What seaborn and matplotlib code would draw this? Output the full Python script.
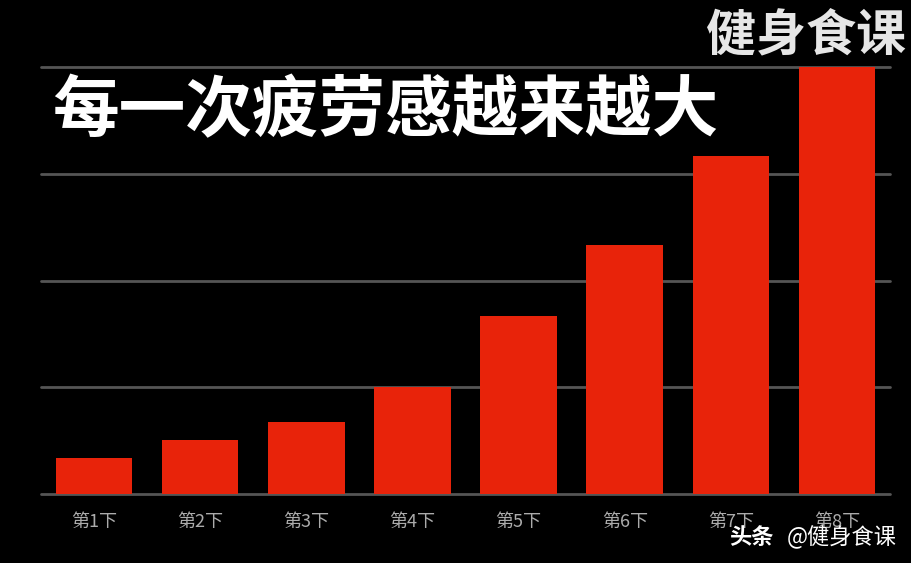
import matplotlib
matplotlib.use("Agg")
import matplotlib.pyplot as plt
import seaborn as sns
import pandas as pd

categories = ["第1下", "第2下", "第3下", "第4下", "第5下", "第6下", "第7下", "第8下"]
values = [0.34, 0.51, 0.67, 1.0, 1.67, 2.33, 3.17, 4.0]
title_text = "每一次疲劳感越来越大"
logo_text = "健身食课"
watermark_bold = "头条"
watermark_text = "@健身食课"

sns.set_theme(style="dark")
plt.rcParams['font.family'] = ['Noto Sans CJK SC', 'DejaVu Sans']

df = pd.DataFrame({"cat": categories, "val": values})

fig = plt.figure(figsize=(9.12, 5.63), dpi=100, facecolor="black")
ax = fig.add_axes([41/912, 1-494/563, (890-41)/912, (494-67)/563])
ax.set_facecolor("black")

sns.barplot(data=df, x="cat", y="val", color="#E8230A", saturation=1,
            width=0.72, ax=ax, zorder=3, linewidth=0, edgecolor="none")
ax.set_xlim(-0.5, 7.5)
ax.set_ylim(0, 4.0)
ax.set_yticks([0, 1, 2, 3, 4])
ax.set_yticklabels([])
ax.grid(axis="y", color="#555555", linewidth=2, zorder=1)
ax.grid(axis="x", visible=False)
for s in ax.spines.values():
    s.set_visible(False)
ax.tick_params(axis="y", length=0)
ax.tick_params(axis="x", length=0, colors="#ABABAB", labelsize=13, pad=14)
ax.set_xlabel("")
ax.set_ylabel("")
for gl in ax.get_ygridlines():
    gl.set_clip_on(False)

fig.text(52/912, 1-112/563, title_text, color="white", fontsize=48,
         fontweight="heavy", ha="left", va="center")
fig.text(906/912, 1-36/563, logo_text, color="#E6E6E6", fontsize=36,
         fontweight="heavy", ha="right", va="center")
fig.text(774/912, 1-537/563, watermark_bold, color="white", fontsize=16,
         fontweight="bold", ha="right", va="center")
fig.text(897/912, 1-537/563, watermark_text, color="white", fontsize=16,
         ha="right", va="center")

fig.savefig("out.png", dpi=100, facecolor="black")
